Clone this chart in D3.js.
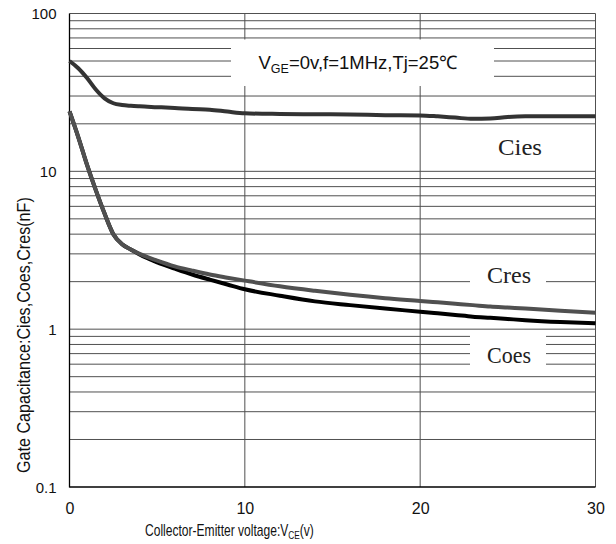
<!DOCTYPE html>
<html>
<head>
<meta charset="utf-8">
<script src="https://cdn.jsdelivr.net/npm/d3@7/dist/d3.min.js"></script>
<style>
  html, body { margin: 0; padding: 0; background: #fff; }
  svg { display: block; }
</style>
</head>
<body>
<svg id="chart" width="616" height="544"></svg>
<script>
// ---- data ----
const vce     = [0, 0.5, 1, 1.5, 2, 2.5, 3, 3.5, 4, 5, 6, 7, 8, 9, 10, 12, 14, 16, 18, 20, 21, 22, 23, 24, 25, 26, 28, 30];
const cies    = [50, 45, 39, 33, 29, 27, 26.3, 26, 25.8, 25.5, 25.2, 24.8, 24.6, 23.9, 23.3, 23.1, 23.0, 22.9, 22.7, 22.6, 22.3, 21.9, 21.5, 21.6, 22.1, 22.3, 22.3, 22.3];
const cres    = [24, 16.5, 11, 7.6, 5.4, 4.0, 3.45, 3.2, 3.0, 2.72, 2.5, 2.35, 2.22, 2.12, 2.03, 1.87, 1.75, 1.65, 1.57, 1.51, 1.48, 1.45, 1.42, 1.39, 1.37, 1.35, 1.31, 1.27];
const coes    = [24, 16.5, 11, 7.6, 5.4, 4.0, 3.45, 3.2, 2.97, 2.65, 2.42, 2.22, 2.06, 1.92, 1.79, 1.63, 1.5, 1.42, 1.35, 1.29, 1.26, 1.23, 1.2, 1.18, 1.16, 1.14, 1.11, 1.09];
const xTicks  = [0, 10, 20, 30];
const yTicks  = [0.1, 1, 10, 100];
const seriesNames = ["Cies", "Cres", "Coes"];
const condition = { main: "V", sub: "GE", rest: "=0v,f=1MHz,Tj=25\u2103" };
const xTitle = { main: "Collector-Emitter voltage:V", sub: "CE", rest: "(v)" };
const yTitle = "Gate Capacitance:Cies,Coes,Cres(nF)";

// ---- layout ----
const svg = d3.select("#chart");
const L = 69.5, R = 595.5, T = 13.5, B = 487;
const x = d3.scaleLinear().domain([0, 30]).range([L, R]);
const y = d3.scaleLog().domain([0.1, 100]).range([B, T]);

// minor/major horizontal grid values
const gridVals = [];
[0.1, 1, 10].forEach(d => { for (let k = 1; k <= 10; k++) gridVals.push(+(d * k).toPrecision(3)); });
const hGrid = Array.from(new Set(gridVals)).filter(v => v > 0.1);

const g = svg.append("g");
g.selectAll("line.h").data(hGrid).join("line")
  .attr("class", "h")
  .attr("x1", L).attr("x2", R)
  .attr("y1", d => y(d)).attr("y2", d => y(d))
  .attr("stroke", "#505050").attr("stroke-width", 1);
g.selectAll("line.v").data([10, 20, 30]).join("line")
  .attr("class", "v")
  .attr("x1", d => x(d)).attr("x2", d => x(d))
  .attr("y1", T).attr("y2", B)
  .attr("stroke", "#505050").attr("stroke-width", 1);

// white label boxes covering the grid
const boxes = [
  { x0: 231, x1: 494, y0: 39.5, y1: 86 },
  { x0: 470, x1: 546, y0: 257, y1: 295 },
  { x0: 470, x1: 546, y0: 331, y1: 370 },
  { x0: 480, x1: 560, y0: 128, y1: 166 }
];
g.selectAll("rect.box").data(boxes).join("rect")
  .attr("class", "box")
  .attr("x", d => d.x0).attr("y", d => d.y0)
  .attr("width", d => d.x1 - d.x0).attr("height", d => d.y1 - d.y0)
  .attr("fill", "#fff");

// frame: left & bottom black
g.append("line").attr("x1", L).attr("x2", L).attr("y1", T).attr("y2", B + 0.5)
  .attr("stroke", "#000").attr("stroke-width", 1.3);
g.append("line").attr("x1", L).attr("x2", R).attr("y1", B).attr("y2", B)
  .attr("stroke", "#000").attr("stroke-width", 1.3);

// curves (Coes below Cres so the shared steep part shows gray)
const line = d3.line().x((d, i) => x(vce[i])).y(d => y(d)).curve(d3.curveMonotoneX);
const series = [
  { vals: coes, color: "#000000" },
  { vals: cres, color: "#505050" },
  { vals: cies, color: "#333333" }
];
svg.append("g").selectAll("path").data(series).join("path")
  .attr("d", d => line(d.vals))
  .attr("fill", "none")
  .attr("stroke", d => d.color)
  .attr("stroke-width", 4)
  .attr("stroke-linejoin", "round");

// axes (labels only)
const xAxis = svg.append("g").attr("transform", `translate(0,${B})`)
  .call(d3.axisBottom(x).tickValues(xTicks).tickSize(0).tickPadding(0).tickFormat(d3.format("d")));
xAxis.select(".domain").remove();
xAxis.selectAll("text")
  .attr("y", 26.5).attr("dy", null)
  .attr("font-family", "Liberation Sans, Arial, sans-serif")
  .attr("font-size", 16).attr("fill", "#111");

const yAxis = svg.append("g").attr("transform", `translate(${L},0)`)
  .call(d3.axisLeft(y).tickValues(yTicks).tickSize(0).tickPadding(0).tickFormat(d => String(d)));
yAxis.select(".domain").remove();
yAxis.selectAll("text")
  .attr("x", -13).attr("dy", "0.36em")
  .attr("font-family", "Liberation Sans, Arial, sans-serif")
  .attr("font-size", 15).attr("fill", "#111");

// condition annotation
const cond = svg.append("text")
  .attr("x", 258.5).attr("y", 68.5)
  .attr("font-family", "Liberation Sans, Arial, sans-serif")
  .attr("font-size", 18.5).attr("fill", "#111");
cond.append("tspan").text(condition.main);
cond.append("tspan").attr("font-size", 12.5).attr("dy", 4).text(condition.sub);
cond.append("tspan").attr("dy", -4).text(condition.rest);

// series labels
const labelPos = [
  { x: 498, y: 155 },
  { x: 487, y: 282.5 },
  { x: 487, y: 363 }
];
svg.append("g").selectAll("text").data(seriesNames).join("text")
  .attr("x", (d, i) => labelPos[i].x).attr("y", (d, i) => labelPos[i].y)
  .attr("font-family", "Liberation Serif, Times New Roman, serif")
  .attr("font-size", 24).attr("fill", "#222")
  .attr("textLength", 44).attr("lengthAdjust", "spacingAndGlyphs")
  .text(d => d);

// x title (condensed font look)
const xtG = svg.append("g");
const xt = xtG.append("text")
  .attr("x", 0).attr("y", 0)
  .attr("font-family", "Liberation Sans, Arial, sans-serif")
  .attr("font-size", 16).attr("fill", "#111");
xt.append("tspan").text(xTitle.main);
xt.append("tspan").attr("font-size", 11).attr("dy", 3).text(xTitle.sub);
xt.append("tspan").attr("dy", -3).text(xTitle.rest);
const xtW = xt.node().getComputedTextLength();
xtG.attr("transform", `translate(145,536) scale(${169 / xtW},1)`);

// y title (condensed font look)
const ytG = svg.append("g");
const yt = ytG.append("text")
  .attr("x", 0).attr("y", 0)
  .attr("font-family", "Liberation Sans, Arial, sans-serif")
  .attr("font-size", 17.5).attr("fill", "#111")
  .text(yTitle);
const ytW = yt.node().getComputedTextLength();
ytG.attr("transform", `translate(30,473) rotate(-90) scale(${276 / ytW},1)`);
</script>
</body>
</html>
